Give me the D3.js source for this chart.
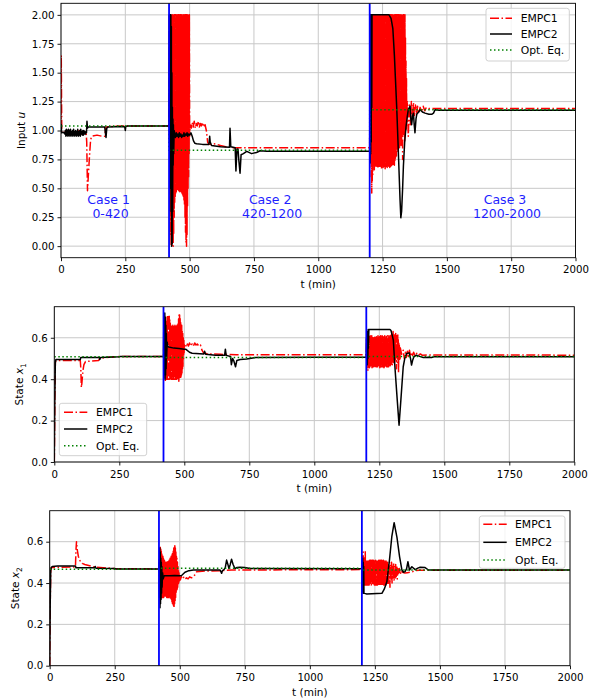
<!DOCTYPE html>
<html><head><meta charset="utf-8">
<script src="https://cdn.jsdelivr.net/npm/d3@7"></script>
<style>body{margin:0;background:#fff}svg{display:block}text{font-family:"DejaVu Sans",sans-serif}</style>
</head><body><svg id="c" width="604" height="700"></svg>
<script>
// ---------- data ----------
const timeTicks=[0,250,500,750,1000,1250,1500,1750,2000];
const uTicks=[0,0.25,0.5,0.75,1.0,1.25,1.5,1.75,2.0];
const x1Ticks=[0,0.2,0.4,0.6];
const x2Ticks=[0,0.2,0.4,0.6];
const caseSwitches=[420,1200];
const caseTitles=["Case 1","Case 2","Case 3"];
const caseRanges=["0-420","420-1200","1200-2000"];
const seriesNames=["EMPC1","EMPC2","Opt. Eq."];

const uOpt=[[0,1.04],[420,1.04],[420,0.83],[1200,0.83],[1200,1.18],[2000,1.18]];
const x1Opt=[[0,0.508],[420,0.508],[420,0.505],[1200,0.505],[1200,0.51],[2000,0.51]];
const x2Opt=[[0,0.467],[420,0.467],[420,0.471],[1200,0.471],[1200,0.463],[2000,0.463]];

const uEMPC1=[[0,1.0],[1,1.65],[3,0.98],[10,0.99],[20,0.97],[25,1.0],[30,0.96],[35,1.0],[40,0.97],[50,0.99],[60,0.96],[70,1.0],[80,0.97],[90,0.98],[98,0.97],[100,0.9],[103,0.48],[106,0.6],[110,0.75],[115,0.92],[120,0.95],[140,0.96],[160,0.95],[170,0.95],[175,1.03],[200,1.035],[250,1.04],[300,1.04],[420,1.04],
[421,2.0],[422,0.95],[423,2.0],[424,0.3],[425,2.0],[426,0.1],[427,2.0],[428,0.0],[429,2.0],[430,0.05],[431,2.0],[432,0.0],[433,2.0],[434,0.05],[435,2.0],[436,0.0],[437,2.0],[438,0.1],[439,2.0],[440,0.25],[441,2.0],[442,0.38],[443,2.0],[444,0.43],[445,2.0],[446,0.46],[447,2.0],[448,0.47],[449,2.0],[450,0.48],[451,2.0],[452,0.48],[453,2.0],[454,0.49],[455,2.0],[456,0.49],[457,2.0],[458,0.48],[459,2.0],[460,0.48],[461,2.0],[462,0.47],[463,2.0],[464,0.47],[465,2.0],[466,0.48],[467,2.0],[468,0.47],[469,2.0],[470,0.46],[471,2.0],[472,0.45],[473,2.0],[474,0.44],[475,2.0],[476,0.42],[477,2.0],[478,0.4],[479,2.0],[480,0.35],[481,2.0],[482,0.25],[483,2.0],[484,0.12],[485,2.0],[486,0.03],[487,2.0],[488,0.0],[489,2.0],[490,0.1],[491,2.0],[492,0.35],[493,2.0],[494,0.5],[495,2.0],[496,0.6],[497,2.0],[498,0.8],[499,2.0],[500,0.95],
[502,1.05],[506,1.02],[510,1.07],[514,1.03],[518,1.08],[522,1.02],[526,1.06],[530,1.04],[534,1.08],[538,1.03],[542,1.06],[546,1.04],[550,1.07],[555,1.03],[560,1.05],[565,1.0],[570,0.9],[575,0.88],[600,0.885],[620,0.87],[640,0.86],[660,0.86],[670,0.85],[700,0.85],[1200,0.85],
[1201,2.0],[1202,0.8],[1203,2.0],[1204,0.75],[1205,2.0],[1206,0.6],[1207,2.0],[1208,0.46],[1209,2.0],[1210,0.55],[1211,2.0],[1212,0.62],[1213,2.0],[1214,0.68],[1215,2.0],[1216,0.7],[1217,2.0],[1218,0.66],[1219,2.0],[1220,0.69],[1221,2.0],[1222,0.7],[1223,2.0],[1224,0.68],[1225,2.0],[1226,0.71],[1227,2.0],[1228,0.69],[1229,2.0],[1230,0.7],[1231,2.0],[1232,0.67],[1233,2.0],[1234,0.7],[1235,2.0],[1236,0.69],[1237,2.0],[1238,0.71],[1239,2.0],[1240,0.68],[1241,2.0],[1242,0.7],[1243,2.0],[1244,0.69],[1245,2.0],[1246,0.66],[1247,2.0],[1248,0.7],[1249,2.0],[1250,0.71],[1251,2.0],[1252,0.68],[1253,2.0],[1254,0.7],[1255,2.0],[1256,0.69],[1257,2.0],[1258,0.7],[1259,2.0],[1260,0.67],[1261,2.0],[1262,0.71],[1263,2.0],[1264,0.69],[1265,2.0],[1266,0.7],[1267,2.0],[1268,0.68],[1269,2.0],[1270,0.7],[1271,2.0],[1272,0.72],[1273,2.0],[1274,0.69],[1275,2.0],[1276,0.7],[1277,2.0],[1278,0.68],[1279,2.0],[1280,0.71],[1281,2.0],[1282,0.69],[1283,2.0],[1284,0.7],[1285,2.0],[1286,0.7],[1287,2.0],[1288,0.72],[1289,2.0],[1290,0.69],[1291,2.0],[1292,0.71],[1293,2.0],[1294,0.73],[1295,2.0],[1296,0.7],[1297,2.0],[1298,0.74],[1299,2.0],[1300,0.76],[1301,2.0],[1302,0.8],[1303,2.0],[1304,0.78],[1305,2.0],[1306,0.84],[1307,2.0],[1308,0.86],[1309,2.0],[1310,0.82],[1311,2.0],[1312,0.9],[1313,2.0],[1314,0.88],[1315,2.0],[1316,0.85],[1317,2.0],[1318,0.92],[1319,2.0],[1320,0.93],[1321,2.0],[1322,0.87],[1323,2.0],[1324,0.88],[1325,2.0],[1326,0.95],[1327,2.0],[1328,0.75],[1329,2.0],[1330,0.98],[1331,2.0],[1332,0.95],[1333,2.0],[1334,1.0],[1335,1.95],[1336,0.9],[1337,2.0],[1338,1.0],[1339,1.8],[1340,1.05],[1341,1.6],[1342,1.0],[1343,1.45],[1344,1.05],
[1346,1.25],[1350,0.95],[1354,1.22],[1358,1.05],[1362,1.25],[1366,1.1],[1370,1.24],[1374,1.12],[1378,1.22],[1382,1.14],[1386,1.21],[1390,1.15],[1396,1.2],[1402,1.16],[1408,1.21],[1414,1.17],[1420,1.2],[1430,1.19],[2000,1.19]];

const uEMPC2=[[0,1.0],[1,1.05],[2,0.98],[10,0.985],[15,0.97],[17,1.0],[19,0.95],[21,1.01],[23,0.96],[25,1.0],[27,0.95],[29,1.01],[31,0.96],[33,1.0],[35,0.95],[37,1.01],[39,0.96],[41,0.99],[43,0.95],[45,1.0],[47,0.96],[49,1.01],[51,0.95],[53,0.99],[55,0.96],[57,1.0],[59,0.95],[61,0.99],[63,0.96],[65,1.01],[67,0.95],[69,0.99],[71,0.96],[73,1.0],[75,0.95],[77,1.01],[79,0.97],[81,0.99],[83,0.96],[85,1.0],[87,0.96],[89,1.0],[91,0.97],[93,0.99],[95,0.97],[97,0.99],[99,0.98],[101,1.08],[103,1.02],[106,1.03],[140,1.03],[170,1.03],[173,0.97],[175,0.94],[178,1.02],[182,1.03],[240,1.035],[248,1.03],[250,1.0],[252,1.035],[260,1.04],[420,1.04],
[421,2.0],[422,0.9],[423,2.0],[424,0.5],[425,2.0],[426,0.8],[427,2.0],[428,0.3],[429,1.9],[430,0.0],[431,1.5],[432,0.02],[433,1.2],[434,0.3],[435,1.1],[436,0.7],[437,1.05],[438,0.8],[440,1.0],
[442,0.97],[445,0.94],[448,0.98],[451,0.95],[454,0.97],[457,0.94],[460,0.98],[463,0.95],[466,0.97],[469,0.94],[472,0.96],[475,0.95],[478,0.98],[481,0.95],[484,0.97],[487,0.96],[490,0.98],[493,0.95],[496,0.97],[500,0.96],[505,0.98],[510,0.95],[515,0.91],[520,0.89],[527,0.885],[550,0.88],[575,0.88],[578,0.95],[580,0.9],[585,0.87],[620,0.86],[655,0.855],[657,1.02],[660,0.86],[677,0.85],[680,0.65],[684,0.84],[688,0.84],[691,0.75],[696,0.63],[700,0.79],[709,0.8],[722,0.82],[741,0.8],[760,0.81],[774,0.825],[800,0.82],[1200,0.82],
[1201,2.0],[1202,0.72],[1203,2.0],[1204,0.8],[1205,2.0],[1206,0.9],[1207,2.0],[1208,1.2],[1209,2.0],[1275,2.0],[1283,1.97],[1290,1.88],[1296,1.65],[1300,1.45],[1305,1.2],[1310,0.9],[1314,0.65],[1318,0.4],[1321,0.245],[1324,0.3],[1328,0.5],[1331,0.69],[1336,0.9],[1341,1.03],[1346,1.12],[1350,1.18],[1357,1.21],[1360,1.1],[1363,1.05],[1367,1.13],[1370,1.15],[1373,1.05],[1376,0.98],[1380,1.1],[1383,1.14],[1390,1.16],[1396,1.18],[1405,1.16],[1415,1.15],[1430,1.14],[1441,1.14],[1448,1.15],[1454,1.18],[1470,1.175],[2000,1.175]];

const x1EMPC1=[[0,0],[2,0.3],[4,0.48],[6,0.49],[100,0.49],[102,0.45],[104,0.36],[106,0.38],[110,0.44],[114,0.47],[120,0.485],[170,0.49],[175,0.5],[200,0.505],[260,0.51],[420,0.51],
[422,0.6],[423,0.45],[424,0.65],[425,0.4],[426,0.66],[427,0.39],[428,0.67],[429,0.4],[430,0.66],[431,0.4],[432,0.68],[433,0.41],[434,0.7],[435,0.4],[436,0.71],[437,0.41],[438,0.71],[439,0.4],[440,0.7],[441,0.41],[442,0.71],[443,0.4],[444,0.69],[445,0.4],[446,0.67],[447,0.41],[448,0.66],[449,0.4],[450,0.66],[451,0.41],[452,0.66],[453,0.4],[454,0.65],[455,0.4],[456,0.66],[457,0.41],[458,0.66],[459,0.4],[460,0.66],[461,0.41],[462,0.65],[463,0.4],[464,0.66],[465,0.41],[466,0.66],[467,0.4],[468,0.66],[469,0.41],[470,0.65],[471,0.4],[472,0.66],[473,0.4],[474,0.66],[475,0.41],[476,0.67],[477,0.4],[478,0.69],[479,0.39],[480,0.71],[481,0.4],[482,0.71],[483,0.41],[484,0.7],[485,0.4],[486,0.68],[487,0.41],[488,0.66],[489,0.42],[490,0.66],[491,0.43],[492,0.63],[493,0.45],[494,0.62],[495,0.46],[496,0.6],[497,0.5],[498,0.59],[499,0.52],[500,0.57],
[504,0.57],[508,0.555],[512,0.57],[516,0.56],[520,0.575],[525,0.56],[530,0.57],[535,0.56],[540,0.575],[545,0.565],[550,0.57],[556,0.56],[562,0.565],[568,0.54],[575,0.525],[600,0.522],[640,0.52],[700,0.518],[1200,0.518],
[1201,0.6],[1202,0.49],[1203,0.61],[1204,0.47],[1205,0.6],[1206,0.44],[1207,0.61],[1208,0.46],[1209,0.6],[1210,0.47],[1211,0.605],[1212,0.455],[1213,0.6],[1214,0.46],[1215,0.61],[1216,0.47],[1217,0.6],[1218,0.46],[1219,0.6],[1220,0.465],[1221,0.61],[1222,0.455],[1223,0.6],[1224,0.46],[1225,0.6],[1226,0.47],[1227,0.605],[1228,0.46],[1229,0.6],[1230,0.465],[1231,0.6],[1232,0.46],[1233,0.61],[1234,0.455],[1235,0.6],[1236,0.47],[1237,0.6],[1238,0.46],[1239,0.605],[1240,0.46],[1241,0.6],[1242,0.465],[1243,0.6],[1244,0.46],[1245,0.61],[1246,0.47],[1247,0.6],[1248,0.46],[1249,0.6],[1250,0.465],[1251,0.605],[1252,0.455],[1253,0.6],[1254,0.46],[1255,0.61],[1256,0.47],[1257,0.6],[1258,0.46],[1259,0.6],[1260,0.465],[1261,0.61],[1262,0.46],[1263,0.6],[1264,0.47],[1265,0.605],[1266,0.46],[1267,0.6],[1268,0.455],[1269,0.6],[1270,0.46],[1271,0.61],[1272,0.47],[1273,0.6],[1274,0.46],[1275,0.6],[1276,0.465],[1277,0.605],[1278,0.46],[1279,0.6],[1280,0.47],[1281,0.61],[1282,0.46],[1283,0.6],[1284,0.465],[1285,0.6],[1286,0.46],[1287,0.61],[1288,0.47],[1289,0.6],[1290,0.46],[1291,0.6],[1292,0.465],[1293,0.61],[1294,0.47],[1295,0.6],[1296,0.47],[1297,0.62],[1298,0.48],[1299,0.6],[1300,0.47],[1301,0.61],[1302,0.49],[1303,0.63],[1304,0.48],[1305,0.6],[1306,0.5],[1307,0.62],[1308,0.48],[1309,0.61],[1310,0.5],[1311,0.6],[1312,0.49],[1313,0.62],[1314,0.5],[1315,0.6],[1316,0.45],[1317,0.61],[1318,0.5],[1319,0.6],[1320,0.48],[1321,0.62],[1322,0.5],[1323,0.59],[1324,0.43],[1325,0.58],[1326,0.5],[1327,0.57],[1328,0.49],[1329,0.56],[1330,0.5],[1331,0.55],
[1336,0.52],[1342,0.54],[1346,0.5],[1350,0.53],[1354,0.505],[1358,0.535],[1362,0.51],[1366,0.54],[1370,0.51],[1374,0.53],[1378,0.515],[1382,0.53],[1388,0.512],[1394,0.525],[1400,0.515],[1408,0.522],[1416,0.515],[1440,0.517],[2000,0.516]];

const x1EMPC2=[[0,0],[2,0.3],[4,0.48],[6,0.495],[100,0.495],[102,0.505],[173,0.505],[175,0.495],[178,0.505],[250,0.508],[255,0.51],[420,0.51],
[421,0.65],[422,0.45],[423,0.7],[424,0.42],[425,0.72],[426,0.4],[427,0.7],[428,0.42],[429,0.66],[430,0.45],[431,0.62],[432,0.5],[434,0.58],[436,0.56],
[440,0.555],[460,0.55],[480,0.548],[500,0.545],[505,0.545],[510,0.54],[520,0.53],[530,0.525],[575,0.522],[578,0.535],[582,0.52],[620,0.516],[655,0.515],[658,0.545],[661,0.515],[678,0.51],[681,0.47],[686,0.5],[690,0.49],[697,0.46],[702,0.49],[715,0.495],[740,0.497],[775,0.505],[1200,0.507],
[1201,0.6],[1202,0.48],[1203,0.62],[1204,0.47],[1205,0.63],[1206,0.5],[1207,0.64],[1208,0.55],[1210,0.64],[1291,0.64],[1295,0.635],[1300,0.61],[1304,0.588],[1310,0.46],[1319,0.3],[1326,0.178],[1333,0.3],[1342,0.46],[1348,0.5],[1355,0.524],[1365,0.527],[1370,0.5],[1374,0.468],[1378,0.49],[1383,0.508],[1393,0.516],[1405,0.51],[1419,0.505],[1440,0.506],[1451,0.505],[1460,0.508],[2000,0.508]];

const x2EMPC1=[[0,0],[2,0.3],[4,0.46],[6,0.475],[99,0.478],[101,0.56],[103,0.6],[106,0.56],[110,0.53],[115,0.51],[125,0.495],[135,0.49],[150,0.485],[170,0.478],[250,0.47],[420,0.468],
[421,0.52],[422,0.36],[423,0.56],[424,0.33],[425,0.58],[426,0.32],[427,0.57],[428,0.34],[429,0.56],[430,0.33],[431,0.54],[432,0.34],[433,0.53],[434,0.33],[435,0.53],[436,0.34],[437,0.52],[438,0.33],[439,0.51],[440,0.34],[441,0.51],[442,0.33],[443,0.5],[444,0.34],[445,0.5],[446,0.33],[447,0.5],[448,0.34],[449,0.5],[450,0.33],[451,0.5],[452,0.34],[453,0.5],[454,0.33],[455,0.51],[456,0.34],[457,0.5],[458,0.33],[459,0.51],[460,0.34],[461,0.51],[462,0.33],[463,0.52],[464,0.32],[465,0.52],[466,0.33],[467,0.53],[468,0.32],[469,0.53],[470,0.31],[471,0.54],[472,0.3],[473,0.55],[474,0.3],[475,0.56],[476,0.29],[477,0.57],[478,0.28],[479,0.57],[480,0.3],[481,0.58],[482,0.31],[483,0.57],[484,0.33],[485,0.55],[486,0.35],[487,0.53],[488,0.36],[489,0.52],[490,0.37],[491,0.5],[492,0.38],[493,0.48],[494,0.39],[495,0.46],[496,0.4],[497,0.45],[498,0.41],[499,0.44],[500,0.42],
[502,0.415],[506,0.43],[510,0.42],[515,0.428],[520,0.418],[526,0.425],[532,0.42],[538,0.43],[545,0.425],[552,0.43],[558,0.44],[565,0.455],[600,0.458],[655,0.46],[700,0.463],[1200,0.465],
[1201,0.52],[1202,0.4],[1203,0.53],[1204,0.39],[1205,0.55],[1206,0.4],[1207,0.52],[1208,0.39],[1209,0.51],[1210,0.4],[1211,0.53],[1212,0.39],[1213,0.555],[1214,0.395],[1215,0.51],[1216,0.39],[1217,0.51],[1218,0.4],[1219,0.505],[1220,0.39],[1221,0.51],[1222,0.395],[1223,0.51],[1224,0.39],[1225,0.505],[1226,0.4],[1227,0.51],[1228,0.39],[1229,0.51],[1230,0.395],[1231,0.505],[1232,0.39],[1233,0.51],[1234,0.4],[1235,0.51],[1236,0.39],[1237,0.505],[1238,0.395],[1239,0.51],[1240,0.39],[1241,0.51],[1242,0.4],[1243,0.505],[1244,0.39],[1245,0.51],[1246,0.395],[1247,0.51],[1248,0.39],[1249,0.505],[1250,0.4],[1251,0.51],[1252,0.39],[1253,0.51],[1254,0.395],[1255,0.505],[1256,0.39],[1257,0.51],[1258,0.4],[1259,0.51],[1260,0.39],[1261,0.505],[1262,0.395],[1263,0.51],[1264,0.39],[1265,0.51],[1266,0.4],[1267,0.505],[1268,0.39],[1269,0.51],[1270,0.395],[1271,0.51],[1272,0.39],[1273,0.505],[1274,0.4],[1275,0.51],[1276,0.39],[1277,0.51],[1278,0.395],[1279,0.505],[1280,0.39],[1281,0.51],[1282,0.4],[1283,0.51],[1284,0.39],[1285,0.505],[1286,0.395],[1287,0.51],[1288,0.39],[1289,0.51],[1290,0.4],[1291,0.505],[1292,0.39],[1293,0.51],[1294,0.395],[1295,0.5],[1296,0.4],[1298,0.5],[1300,0.39],[1302,0.49],[1304,0.4],[1306,0.5],[1308,0.38],[1310,0.49],[1312,0.41],[1314,0.5],[1316,0.4],[1318,0.49],[1320,0.42],[1322,0.5],[1324,0.41],[1326,0.48],[1328,0.42],[1330,0.49],[1332,0.43],[1334,0.48],[1336,0.42],[1338,0.47],[1340,0.44],[1344,0.47],[1348,0.44],
[1350,0.46],[1356,0.452],[1365,0.448],[1375,0.45],[1385,0.452],[1395,0.455],[1405,0.46],[1420,0.462],[2000,0.462]];

const x2EMPC2=[[0,0],[2,0.3],[4,0.46],[6,0.475],[10,0.48],[30,0.482],[50,0.483],[80,0.482],[99,0.482],[101,0.474],[172,0.474],[175,0.48],[178,0.472],[250,0.47],[255,0.468],[420,0.468],
[421,0.5],[422,0.33],[423,0.57],[424,0.28],[425,0.55],[426,0.3],[427,0.52],[428,0.32],[429,0.5],[430,0.35],[431,0.48],[432,0.38],[434,0.45],[436,0.42],[440,0.435],
[460,0.435],[480,0.436],[505,0.435],[510,0.44],[520,0.452],[535,0.46],[552,0.463],[655,0.463],[658,0.455],[661,0.447],[664,0.46],[670,0.465],[675,0.475],[680,0.511],[685,0.49],[689,0.47],[694,0.49],[699,0.515],[705,0.49],[712,0.47],[720,0.475],[731,0.476],[750,0.475],[770,0.47],[1200,0.469],
[1201,0.5],[1202,0.36],[1203,0.52],[1204,0.35],[1205,0.5],[1206,0.36],[1207,0.48],[1208,0.35],[1210,0.35],[1219,0.347],[1277,0.35],[1286,0.37],[1296,0.406],[1306,0.511],[1315,0.624],[1324,0.692],[1335,0.62],[1345,0.527],[1354,0.463],[1360,0.452],[1366,0.455],[1372,0.47],[1377,0.503],[1383,0.463],[1392,0.479],[1405,0.465],[1415,0.472],[1424,0.476],[1443,0.475],[1456,0.463],[2000,0.463]];

// ---------- layout ----------
const panels=[
 {left:61,right:575.5,top:3.3,bottom:257.7,yDomain:[-0.1,2.1],ticks:uTicks,fmt:".2f",e1:uEMPC1,e2:uEMPC2,opt:uOpt,
  ylab:{x:24.5,parts:[["Input ",false],["u",true]]},
  legend:{x:486,y:8.3,w:83.3,h:52.7,rows:[18.3,34,50],hx:[490,512],tx:520.7},cases:true},
 {left:54.3,right:574.3,top:306.7,bottom:462,yDomain:[0,0.75],ticks:x1Ticks,fmt:".1f",e1:x1EMPC1,e2:x1EMPC2,opt:x1Opt,
  ylab:{x:23,parts:[["State ",false],["x",true],["1","sub"]]},
  legend:{x:59.3,y:403.3,w:87.4,h:52.4,rows:[412.3,429,445.7],hx:[64,87.3],tx:96},cases:false},
 {left:49.7,right:570,top:510.7,bottom:665.7,yDomain:[0,0.75],ticks:x2Ticks,fmt:".1f",e1:x2EMPC1,e2:x2EMPC2,opt:x2Opt,
  ylab:{x:19,parts:[["State ",false],["x",true],["2","sub"]]},
  legend:{x:479.3,y:516,w:85.7,h:52.3,rows:[524.3,542.3,560],hx:[483.3,506.7],tx:515},cases:false}
];
const casePos=[{t:185,v:0.365},{t:813,v:0.365},{t:1726,v:0.365}];
const styles=[
 {stroke:"#ff0000",dash:"9,2.5,1.5,2.5",w:1.5},
 {stroke:"#000000",dash:null,w:1.5},
 {stroke:"#008000",dash:"1.5,2.5",w:1.5}
];

const svg=d3.select("#c");
const defs=svg.append("defs");

panels.forEach((p,i)=>{
  const x=d3.scaleLinear().domain([0,2000]).range([p.left,p.right]);
  const y=d3.scaleLinear().domain(p.yDomain).range([p.bottom,p.top]);
  const g=svg.append("g");
  defs.append("clipPath").attr("id","clip"+i).append("rect")
    .attr("x",p.left).attr("y",p.top).attr("width",p.right-p.left).attr("height",p.bottom-p.top);
  g.append("g").selectAll("line").data(timeTicks).join("line")
    .attr("x1",d=>x(d)).attr("x2",d=>x(d)).attr("y1",p.top).attr("y2",p.bottom)
    .attr("stroke","#c8c8c8").attr("stroke-width",1);
  g.append("g").selectAll("line").data(p.ticks).join("line")
    .attr("x1",p.left).attr("x2",p.right).attr("y1",d=>y(d)).attr("y2",d=>y(d))
    .attr("stroke","#c8c8c8").attr("stroke-width",1);
  const line=d3.line().x(d=>x(d[0])).y(d=>y(d[1]));
  const cg=g.append("g").attr("clip-path",`url(#clip${i})`);
  [p.e1,p.e2,p.opt].forEach((s,k)=>{
    cg.append("path").datum(s).attr("d",line).attr("fill","none")
      .attr("stroke",styles[k].stroke).attr("stroke-width",styles[k].w)
      .attr("stroke-dasharray",styles[k].dash).attr("stroke-linejoin","round");
  });
  cg.selectAll(".sw").data(caseSwitches).join("line")
    .attr("x1",d=>x(d)).attr("x2",d=>x(d)).attr("y1",p.top).attr("y2",p.bottom)
    .attr("stroke","#0000ff").attr("stroke-width",1.8);
  if(p.cases){
    casePos.forEach((c,k)=>{
      const t=g.append("text").attr("text-anchor","middle").attr("fill","#1f1fff").attr("font-size",12.5);
      t.append("tspan").attr("x",x(c.t)).attr("y",y(c.v)).text(caseTitles[k]);
      t.append("tspan").attr("x",x(c.t)+2).attr("y",y(c.v)+14.3).text(caseRanges[k]);
    });
  }
  g.append("rect").attr("x",p.left).attr("y",p.top).attr("width",p.right-p.left).attr("height",p.bottom-p.top)
    .attr("fill","none").attr("stroke","#000").attr("stroke-width",0.9);
  const ax=g.append("g").attr("transform",`translate(0,${p.bottom})`)
    .call(d3.axisBottom(x).tickValues(timeTicks).tickFormat(d3.format("d")).tickSize(3.5).tickPadding(5));
  const ay=g.append("g").attr("transform",`translate(${p.left},0)`)
    .call(d3.axisLeft(y).tickValues(p.ticks).tickFormat(d3.format(p.fmt)).tickSize(3.5).tickPadding(3));
  [ax,ay].forEach(a=>{
    a.select(".domain").remove();
    a.attr("font-family","DejaVu Sans").attr("font-size",10.2);
    a.selectAll("line").attr("stroke","#000").attr("stroke-width",0.9);
    a.selectAll("text").attr("fill","#000");
  });
  g.append("text").attr("x",(p.left+p.right)/2).attr("y",p.bottom+30).attr("text-anchor","middle")
    .attr("font-size",10.5).text("t (min)");
  const yl=g.append("text").attr("transform",`translate(${p.ylab.x},${(p.top+p.bottom)/2}) rotate(-90)`)
    .attr("text-anchor","middle").attr("font-size",10.5);
  p.ylab.parts.forEach(([s,f])=>{
    const ts=yl.append("tspan").text(s);
    if(f===true) ts.attr("font-style","italic");
    if(f==="sub") ts.attr("font-size",7.5).attr("dy",2.5);
  });
  const L=p.legend;
  const lg=g.append("g");
  lg.append("rect").attr("x",L.x).attr("y",L.y).attr("width",L.w).attr("height",L.h).attr("rx",2.5)
    .attr("fill","#fff").attr("fill-opacity",0.8).attr("stroke","#cccccc").attr("stroke-width",0.9);
  seriesNames.forEach((n,k)=>{
    lg.append("line").attr("x1",L.hx[0]).attr("x2",L.hx[1]).attr("y1",L.rows[k]).attr("y2",L.rows[k])
      .attr("stroke",styles[k].stroke).attr("stroke-width",styles[k].w).attr("stroke-dasharray",styles[k].dash);
    lg.append("text").attr("x",L.tx).attr("y",L.rows[k]+3.9).attr("font-size",10.8).text(n);
  });
});
</script></body></html>
